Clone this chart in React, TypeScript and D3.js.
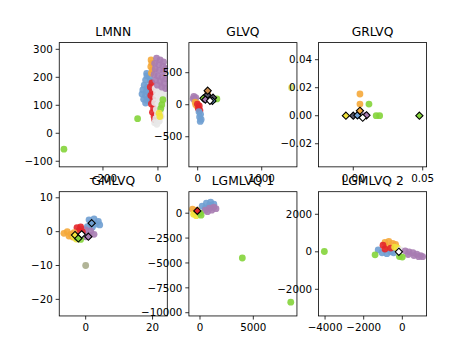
import React from "react";
import * as d3 from "d3";

type P = [number, number];

// ---- colours by class ----
const BLUE = "#6f9fd1", ORANGE = "#f5a93a", RED = "#e3262a", PURPLE = "#a77cb1",
  GREEN = "#84d43a", YELLOW = "#f1e33b", GREY = "#e8e8e8", BROWN = "#c98a4d",
  OLIVE = "#a9ac8c", PALE = "#d9e47c", WHITE = "#ffffff", DARK = "#555566";

// ---- LMNN ----
const lmnnBlue: P[] = [[-41,214],[-40,205],[-30,200],[-45,190],[-28,185],[-50,172],[-38,165],[-55,155],[-42,150],[-30,148],[-58,140],[-45,135],[-33,130],[-52,122],[-40,118],[-28,115],[-45,108]];
const lmnnRed: P[] = [[-22,180],[-28,165],[-20,150],[-26,135],[-18,120],[-24,105],[-16,90],[-20,75],[-14,60],[-12,48]];
const lmnnOrange: P[] = [[-25,262],[-22,250],[-26,238],[-20,226],[-24,215]];
const lmnnGrey: P[] = [[-10,160],[5,158],[18,155],[-5,145],[12,140],[25,135],[-8,128],[8,122],[20,115],[-12,110],[3,102],[15,95],[-6,85],[10,78],[-2,68],[12,60],[-8,52],[5,44],[-12,38],[-4,32]];
const lmnnGreen: P[] = [[-342,-57],[-74,52],[18,120],[14,102],[10,88]];
const lmnnYellow: P[] = [[4,72],[7,60]];
const lmnnPurple: P[] = [[-5,268],[8,262],[20,255],[-12,250],[3,245],[18,240],[28,232],[-10,230],[5,225],[20,220],[-14,210],[0,205],[15,200],[28,195],[-8,190],[8,185],[22,178],[-2,172],[14,165],[28,160]];

// ---- GLVQ ----
const glvqPurple: P[] = [[-60,130],[-30,110],[-70,95],[-40,75]];
const glvqOrange: P[] = [[-40,40],[-10,20],[-30,0],[0,-30]];
const glvqRed: P[] = [[-5,10],[25,-20],[10,-60],[35,-90]];
const glvqBlue: P[] = [[20,-110],[45,-150],[30,-190],[55,-230],[40,-260]];
const glvqGreen: P[] = [[300,90],[250,80]];
const glvqPale: P[] = [[1465,265]];
const glvqBrown: P[] = [[156,200]];
const glvqProtoBrown: P[] = [[156,219]];
const glvqProtoGreen: P[] = [[90,100]];
const glvqProtoDark: P[] = [[150,150],[240,110]];
const glvqProtoPurple: P[] = [[120,80]];
const glvqProtoBlue: P[] = [[230,60]];
const glvqProtoWhite: P[] = [[192,62]];

// ---- GRLVQ ----
const grlvqOrange: P[] = [[0.0048,0.0155],[0.0048,0.0083]];
const grlvqGreen: P[] = [[0.0113,0.0083],[0.0165,0.0],[0.019,0.0]];
const grlvqBlue: P[] = [[0.0035,0.0003]];
const grlvqPurple: P[] = [[0.0088,0.0002]];
const grlvqProtoOrange: P[] = [[0.0048,0.0035]];
const grlvqProtoYellow: P[] = [[-0.0053,0.0]];
const grlvqProtoDark: P[] = [[0.0,0.0]];
const grlvqProtoBlue: P[] = [[0.003,0.0003]];
const grlvqProtoPurple: P[] = [[0.0095,0.0003]];
const grlvqProtoWhite: P[] = [[0.0068,-0.0014]];
const grlvqProtoGreen: P[] = [[0.0476,0.0]];

// ---- GMLVQ ----
const gmlvqBlue: P[] = [[1,3.5],[2.5,3.8],[3.8,3],[1.5,2.5],[3,2.2],[4.2,2],[0.5,1.5],[2,1.3]];
const gmlvqPurple: P[] = [[-1.5,0.8],[0,0.5],[1.5,0.2],[-0.5,-0.5],[1,-1],[2.5,-0.8],[0,-1.5]];
const gmlvqRed: P[] = [[-2.6,1.2],[-1.5,1.4],[-2,0.2],[-1,0]];
const gmlvqOrange: P[] = [[-6.5,-0.5],[-5.5,0],[-4.5,-0.8],[-3.5,-0.3],[-5,-1.3],[-3.8,-1.6]];
const gmlvqYellow: P[] = [[-3.5,-1.5],[-2.8,-2.2]];
const gmlvqGreen: P[] = [[-2.5,-1.8],[-1.5,-2.3]];
const gmlvqOlive: P[] = [[0,-10]];
const gmlvqProtoBlue: P[] = [[1.8,2.5]];
const gmlvqProtoYellow: P[] = [[-3.2,-1.0]];
const gmlvqProtoWhite: P[] = [[-1.2,-0.8]];
const gmlvqProtoPurple: P[] = [[0.8,-1.5]];
const gmlvqProtoGreen: P[] = [[-2.2,-2.0]];

// ---- LGMLVQ 1 ----
const lg1Blue: P[] = [[200,700],[600,1000],[1000,1100],[500,500],[900,800],[1300,900]];
const lg1Purple: P[] = [[500,300],[900,500],[1300,600],[700,150],[1100,300],[1500,450]];
const lg1Orange: P[] = [[-700,400],[-500,100],[-300,300]];
const lg1Yellow: P[] = [[-600,-100],[-350,-250]];
const lg1Green: P[] = [[0,0],[100,-200],[3970,-4500],[8510,-8940]];
const lg1ProtoRed: P[] = [[-250,230]];

// ---- LGMLVQ 2 ----
const lg2Blue: P[] = [[-1250,100],[-1050,-50],[-800,-100],[-600,0],[-450,-50]];
const lg2Orange: P[] = [[-900,500],[-700,550],[-500,450],[-350,400],[-800,250]];
const lg2Red: P[] = [[-1000,350],[-900,150],[-600,200]];
const lg2Yellow: P[] = [[-400,250],[-250,200]];
const lg2Grey: P[] = [[-100,100]];
const lg2Purple: P[] = [[150,50],[350,0],[550,-50],[750,-130],[950,-200],[1050,-260],[300,-150],[600,-200],[850,-260]];
const lg2Green: P[] = [[-4036,16],[-1411,-160],[-150,-250],[0,-280]];
const lg2ProtoWhite: P[] = [[-180,0]];

// ---- ticks / domains ----
const lmnnX = [-200, 0], lmnnY = [-100, 0, 100, 200, 300];
const glvqX = [0, 1000], glvqY = [-500, 0, 500];
const grlvqX = [0.0, 0.05], grlvqY = [-0.02, 0.0, 0.02, 0.04];
const gmlvqX = [0, 20], gmlvqY = [-20, -10, 0, 10];
const lg1X = [0, 5000], lg1Y = [-10000, -7500, -5000, -2500, 0];
const lg2X = [-4000, -2000, 0], lg2Y = [-2000, 0, 2000];

type Series = { pts: P[]; color: string; proto?: boolean };
type PanelDef = {
  title: string; col: number; row: number;
  xd: [number, number]; yd: [number, number];
  xt: number[]; yt: number[]; dec: number; series: Series[];
};

const panels: PanelDef[] = [
  { title: "LMNN", col: 0, row: 0, xd: [-359, 34], yd: [-120, 324], xt: lmnnX, yt: lmnnY, dec: 0,
    series: [
      { pts: lmnnBlue, color: BLUE }, { pts: lmnnRed, color: RED }, { pts: lmnnOrange, color: ORANGE },
      { pts: lmnnGrey, color: GREY }, { pts: lmnnGreen, color: GREEN }, { pts: lmnnYellow, color: YELLOW },
      { pts: lmnnPurple, color: PURPLE },
    ] },
  { title: "GLVQ", col: 1, row: 0, xd: [-137, 1550], yd: [-970, 970], xt: glvqX, yt: glvqY, dec: 0,
    series: [
      { pts: glvqPurple, color: PURPLE }, { pts: glvqOrange, color: ORANGE }, { pts: glvqRed, color: RED },
      { pts: glvqBlue, color: BLUE }, { pts: glvqGreen, color: GREEN }, { pts: glvqPale, color: PALE },
      { pts: glvqBrown, color: BROWN },
      { pts: glvqProtoGreen, color: GREEN, proto: true }, { pts: glvqProtoDark, color: DARK, proto: true },
      { pts: glvqProtoPurple, color: PURPLE, proto: true }, { pts: glvqProtoBlue, color: BLUE, proto: true },
      { pts: glvqProtoWhite, color: WHITE, proto: true }, { pts: glvqProtoBrown, color: BROWN, proto: true },
    ] },
  { title: "GRLVQ", col: 2, row: 0, xd: [-0.025, 0.0528], yd: [-0.0365, 0.0522], xt: grlvqX, yt: grlvqY, dec: 2,
    series: [
      { pts: grlvqOrange, color: ORANGE }, { pts: grlvqGreen, color: GREEN }, { pts: grlvqBlue, color: BLUE },
      { pts: grlvqPurple, color: PURPLE },
      { pts: grlvqProtoYellow, color: YELLOW, proto: true }, { pts: grlvqProtoDark, color: DARK, proto: true },
      { pts: grlvqProtoBlue, color: BLUE, proto: true }, { pts: grlvqProtoPurple, color: PURPLE, proto: true },
      { pts: grlvqProtoOrange, color: ORANGE, proto: true }, { pts: grlvqProtoWhite, color: WHITE, proto: true },
      { pts: grlvqProtoGreen, color: GREEN, proto: true },
    ] },
  { title: "GMLVQ", col: 0, row: 1, xd: [-7.9, 24.4], yd: [-24.9, 11.8], xt: gmlvqX, yt: gmlvqY, dec: 0,
    series: [
      { pts: gmlvqBlue, color: BLUE }, { pts: gmlvqPurple, color: PURPLE }, { pts: gmlvqRed, color: RED },
      { pts: gmlvqOrange, color: ORANGE }, { pts: gmlvqYellow, color: YELLOW }, { pts: gmlvqGreen, color: GREEN },
      { pts: gmlvqOlive, color: OLIVE },
      { pts: gmlvqProtoBlue, color: BLUE, proto: true }, { pts: gmlvqProtoYellow, color: YELLOW, proto: true },
      { pts: gmlvqProtoWhite, color: WHITE, proto: true }, { pts: gmlvqProtoPurple, color: PURPLE, proto: true },
      { pts: gmlvqProtoGreen, color: GREEN, proto: true },
    ] },
  { title: "LGMLVQ 1", col: 1, row: 1, xd: [-1040, 9090], yd: [-10325, 2160], xt: lg1X, yt: lg1Y, dec: 0,
    series: [
      { pts: lg1Blue, color: BLUE }, { pts: lg1Purple, color: PURPLE }, { pts: lg1Orange, color: ORANGE },
      { pts: lg1Yellow, color: YELLOW }, { pts: lg1Green, color: GREEN },
      { pts: lg1ProtoRed, color: RED, proto: true },
    ] },
  { title: "LGMLVQ 2", col: 2, row: 1, xd: [-4336, 1256], yd: [-3421, 3205], xt: lg2X, yt: lg2Y, dec: 0,
    series: [
      { pts: lg2Blue, color: BLUE }, { pts: lg2Orange, color: ORANGE }, { pts: lg2Red, color: RED },
      { pts: lg2Yellow, color: YELLOW }, { pts: lg2Grey, color: GREY }, { pts: lg2Purple, color: PURPLE },
      { pts: lg2Green, color: GREEN },
      { pts: lg2ProtoWhite, color: WHITE, proto: true },
    ] },
];

const W = 474, H = 355;
const LEFT = 59.25, RIGHT = 426.6, TOP = 42.6, BOTTOM = 315.95;
const AW = (RIGHT - LEFT) / 3.4, AH = (BOTTOM - TOP) / 2.2;
const FONT = "DejaVu Sans, sans-serif";

const fmt = (v: number, dec: number) => {
  const s = v.toFixed(dec);
  return (s.startsWith("-") ? "\u2212" + s.slice(1) : s).replace(/^\u22120(\.0+)?$/, "0$1");
};

const DR = 3.6;
const diamondPath = d3.line()([[0, -DR], [DR, 0], [0, DR], [-DR, 0]]) + "Z";

function Panel({ p, idx }: { p: PanelDef; idx: number }) {
  const x0 = LEFT + p.col * AW * 1.2;
  const y0 = TOP + p.row * AH * 1.2;
  const x = d3.scaleLinear().domain(p.xd).range([x0, x0 + AW]);
  const y = d3.scaleLinear().domain(p.yd).range([y0 + AH, y0]);
  const clipId = `clip${idx}`;
  return (
    <g>
      <defs>
        <clipPath id={clipId}><rect x={x0} y={y0} width={AW} height={AH} /></clipPath>
      </defs>
      <rect x={x0} y={y0} width={AW} height={AH} fill="#fff" />
      <g clipPath={`url(#${clipId})`}>
        {p.series.map((s, i) =>
          s.pts.map((pt, j) =>
            s.proto ? (
              <path key={`${i}-${j}`} d={diamondPath} transform={`translate(${x(pt[0])},${y(pt[1])})`}
                fill={s.color} stroke="#000" strokeWidth={1.1} />
            ) : (
              <circle key={`${i}-${j}`} cx={x(pt[0])} cy={y(pt[1])} r={3.4} fill={s.color} opacity={0.9} />
            )
          )
        )}
      </g>
      <rect x={x0} y={y0} width={AW} height={AH} fill="none" stroke="#000" strokeWidth={0.8} />
      {p.xt.map((t) => (
        <g key={`x${t}`}>
          <line x1={x(t)} x2={x(t)} y1={y0 + AH} y2={y0 + AH + 3.6} stroke="#000" strokeWidth={0.8} />
          <text x={x(t)} y={y0 + AH + 15} textAnchor="middle" fontSize={10.3} fontFamily={FONT}>{fmt(t, p.dec)}</text>
        </g>
      ))}
      {p.yt.map((t) => (
        <g key={`y${t}`}>
          <line x1={x0 - 3.6} x2={x0} y1={y(t)} y2={y(t)} stroke="#000" strokeWidth={0.8} />
          <text x={x0 - 6.5} y={y(t) + 3.7} textAnchor="end" fontSize={10.3} fontFamily={FONT}>{fmt(t, p.dec)}</text>
        </g>
      ))}
      <text x={x0 + AW / 2} y={y0 - 6.5} textAnchor="middle" fontSize={12.3} fontFamily={FONT}>{p.title}</text>
    </g>
  );
}

export default function App() {
  return (
    <svg width={W} height={H} style={{ position: "absolute", left: 0, top: 0, background: "#fff" }}>
      <rect width={W} height={H} fill="#fff" />
      {panels.map((p, i) => <Panel key={p.title} p={p} idx={i} />)}
    </svg>
  );
}
